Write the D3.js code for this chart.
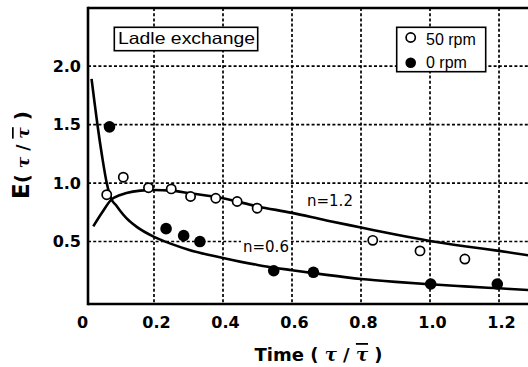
<!DOCTYPE html>
<html><head><meta charset="utf-8">
<script src="https://cdn.jsdelivr.net/npm/d3@7"></script>
<style>
html,body{margin:0;padding:0;background:#fff;}
svg{display:block;}
</style></head>
<body>
<svg id="chart" width="528" height="367"></svg>
<script>
// ---- data ----
const xTicks = [0, 0.2, 0.4, 0.6, 0.8, 1.0, 1.2];
const xTickLabels = ["0", "0.2", "0.4", "0.6", "0.8", "1.0", "1.2"];
const yTicks = [0.5, 1.0, 1.5, 2.0];
const yTickLabels = ["0.5", "1.0", "1.5", "2.0"];
const gridX = [0.2, 0.4, 0.6, 0.8, 1.0, 1.2];
const gridY = [0.5, 1.0, 1.5, 2.0];

const rpm50X = [0.063, 0.111, 0.184, 0.250, 0.306, 0.379, 0.441, 0.499, 0.834, 0.971, 1.101];
const rpm50Y = [0.90, 1.05, 0.96, 0.95, 0.885, 0.87, 0.842, 0.785, 0.51, 0.42, 0.35];
const rpm0X = [0.071, 0.235, 0.286, 0.333, 0.547, 0.662, 1.002, 1.195];
const rpm0Y = [1.48, 0.61, 0.55, 0.50, 0.25, 0.237, 0.137, 0.137];

const n12X = [0.024, 0.05, 0.077, 0.10, 0.12, 0.16, 0.20, 0.25, 0.30, 0.40, 0.50, 0.60, 0.70, 0.80, 0.90, 1.00, 1.10, 1.20, 1.29];
const n12Y = [0.63, 0.75, 0.86, 0.895, 0.915, 0.935, 0.94, 0.935, 0.915, 0.87, 0.80, 0.745, 0.68, 0.62, 0.56, 0.505, 0.46, 0.42, 0.38];
const n06X = [0.019, 0.028, 0.036, 0.05, 0.063, 0.077, 0.09, 0.10, 0.12, 0.15, 0.20, 0.25, 0.30, 0.40, 0.50, 0.60, 0.70, 0.80, 0.90, 1.00, 1.10, 1.20, 1.29];
const n06Y = [1.89, 1.68, 1.50, 1.22, 1.00, 0.86, 0.81, 0.77, 0.70, 0.625, 0.54, 0.48, 0.43, 0.36, 0.30, 0.255, 0.215, 0.18, 0.155, 0.135, 0.117, 0.10, 0.085];

// ---- scales ----
const svg = d3.select("#chart");
const pL = 88, pR = 528, pT = 8, pB = 304;
const x = d3.scaleLinear().domain([0.0087, 1.284]).range([pL, pR]);
const y = d3.scaleLinear().domain([-0.034, 2.496]).range([pB, pT]);

// gridlines
const grid = svg.append("g").attr("stroke", "#000").attr("stroke-width", 1.7).attr("stroke-dasharray", "3,2.2");
grid.selectAll("line.gx").data(gridX).join("line").attr("class", "gx")
  .attr("x1", d => x(d)).attr("x2", d => x(d)).attr("y1", pT).attr("y2", pB);
grid.selectAll("line.gy").data(gridY).join("line").attr("class", "gy")
  .attr("x1", pL).attr("x2", pR).attr("y1", d => y(d)).attr("y2", d => y(d));

// axes
const xAxis = d3.axisBottom(x).tickValues(xTicks).tickSize(0).tickPadding(12)
  .tickFormat((d, i) => xTickLabels[i]);
const gx = svg.append("g").attr("transform", `translate(0,${pB})`).call(xAxis);
gx.select(".domain").remove();
gx.selectAll("text").attr("font-family", "DejaVu Sans").attr("font-weight", "bold")
  .attr("font-size", 16).attr("fill", "#000").attr("dy", "0.72em");
gx.selectAll(".tick").filter(d => d === 0).select("text").attr("dx", -3);
gx.selectAll(".tick").filter(d => d > 0).select("text").attr("dx", 2);

const yAxis = d3.axisLeft(y).tickValues(yTicks).tickSize(0).tickPadding(7)
  .tickFormat((d, i) => yTickLabels[i]);
const gy = svg.append("g").attr("transform", `translate(${pL},0)`).call(yAxis);
gy.select(".domain").remove();
gy.selectAll("text").attr("font-family", "DejaVu Sans").attr("font-weight", "bold")
  .attr("font-size", 16).attr("fill", "#000");

// frame
svg.append("line").attr("x1", pL).attr("x2", pL).attr("y1", pT - 1.2).attr("y2", pB + 1.2)
  .attr("stroke", "#000").attr("stroke-width", 2.6);
svg.append("line").attr("x1", pL).attr("x2", pR).attr("y1", pT).attr("y2", pT)
  .attr("stroke", "#000").attr("stroke-width", 2.6);
svg.append("line").attr("x1", pL).attr("x2", pR).attr("y1", pB).attr("y2", pB)
  .attr("stroke", "#000").attr("stroke-width", 2.6);

// curve label n=0.6 background (covers gridline)
svg.append("rect").attr("x", 241).attr("y", 238).attr("width", 50).attr("height", 16).attr("fill", "#fff");

// curves
svg.append("clipPath").attr("id", "clip").append("rect")
  .attr("x", pL).attr("y", pT).attr("width", pR - pL).attr("height", pB - pT);
const line = d3.line().x(d => x(d[0])).y(d => y(d[1])).curve(d3.curveMonotoneX);
const curves = svg.append("g").attr("clip-path", "url(#clip)");
curves.append("path").datum(n12X.map((v, i) => [v, n12Y[i]])).attr("d", line)
  .attr("fill", "none").attr("stroke", "#000").attr("stroke-width", 2.6);
curves.append("path").datum(n06X.map((v, i) => [v, n06Y[i]])).attr("d", line)
  .attr("fill", "none").attr("stroke", "#000").attr("stroke-width", 2.6);

// points
svg.append("g").selectAll("circle").data(rpm50X.map((v, i) => [v, rpm50Y[i]])).join("circle")
  .attr("cx", d => x(d[0])).attr("cy", d => y(d[1])).attr("r", 4.6)
  .attr("fill", "#fff").attr("stroke", "#000").attr("stroke-width", 1.7);
svg.append("g").selectAll("circle").data(rpm0X.map((v, i) => [v, rpm0Y[i]])).join("circle")
  .attr("cx", d => x(d[0])).attr("cy", d => y(d[1])).attr("r", 5.8)
  .attr("fill", "#000");

// curve labels
const labFont = "DejaVu Sans";
svg.append("text").attr("x", 307).attr("y", 206).attr("font-family", labFont)
  .attr("font-size", 15).text("n=1.2");
svg.append("text").attr("x", 243).attr("y", 252).attr("font-family", labFont)
  .attr("font-size", 15).text("n=0.6");

// Ladle exchange box
svg.append("rect").attr("x", 114.3).attr("y", 27.3).attr("width", 143.4).attr("height", 23.4)
  .attr("fill", "#fff").attr("stroke", "#000").attr("stroke-width", 1.6);
svg.append("text").attr("x", 118).attr("y", 43.5).attr("font-family", "Liberation Sans")
  .attr("font-size", 16.5).attr("textLength", 137).attr("lengthAdjust", "spacingAndGlyphs")
  .text("Ladle exchange");

// legend
const lg = svg.append("g");
lg.append("rect").attr("x", 396.7).attr("y", 27.3).attr("width", 89).attr("height", 44.4)
  .attr("fill", "#fff").attr("stroke", "#000").attr("stroke-width", 1.6);
lg.append("circle").attr("cx", 410.7).attr("cy", 37.5).attr("r", 4.6)
  .attr("fill", "#fff").attr("stroke", "#000").attr("stroke-width", 1.7);
lg.append("circle").attr("cx", 410.7).attr("cy", 62.7).attr("r", 5.3).attr("fill", "#000");
lg.append("text").attr("x", 426).attr("y", 45.3).attr("font-family", "Liberation Sans")
  .attr("font-size", 16).text("50 rpm");
lg.append("text").attr("x", 426).attr("y", 67.8).attr("font-family", "Liberation Sans")
  .attr("font-size", 16).text("0 rpm");

// axis titles
const xt = svg.append("text").attr("x", 318.5).attr("y", 361).attr("text-anchor", "middle")
  .attr("font-family", "DejaVu Sans").attr("font-weight", "bold").attr("font-size", 18);
xt.append("tspan").text("Time ( ");
xt.append("tspan").attr("font-family", "DejaVu Serif").attr("font-style", "italic").text("τ");
xt.append("tspan").text(" / ");
xt.append("tspan").attr("font-family", "DejaVu Serif").attr("font-style", "italic")
  .attr("text-decoration", "overline").text("τ");
xt.append("tspan").text(" )");

const yt = svg.append("text").attr("transform", "translate(29,155) rotate(-90)")
  .attr("text-anchor", "middle").attr("font-family", "DejaVu Sans").attr("font-weight", "bold")
  .attr("font-size", 20);
yt.append("tspan").attr("font-size", 23).text("E");
yt.append("tspan").text("(");
yt.append("tspan").attr("font-family", "DejaVu Serif").attr("font-style", "italic").attr("font-size", 17).text(" τ");
yt.append("tspan").attr("font-size", 17).text(" / ");
yt.append("tspan").attr("font-family", "DejaVu Serif").attr("font-style", "italic").attr("font-size", 17)
  .attr("text-decoration", "overline").text("τ");
yt.append("tspan").text(" )");
</script>
</body></html>
